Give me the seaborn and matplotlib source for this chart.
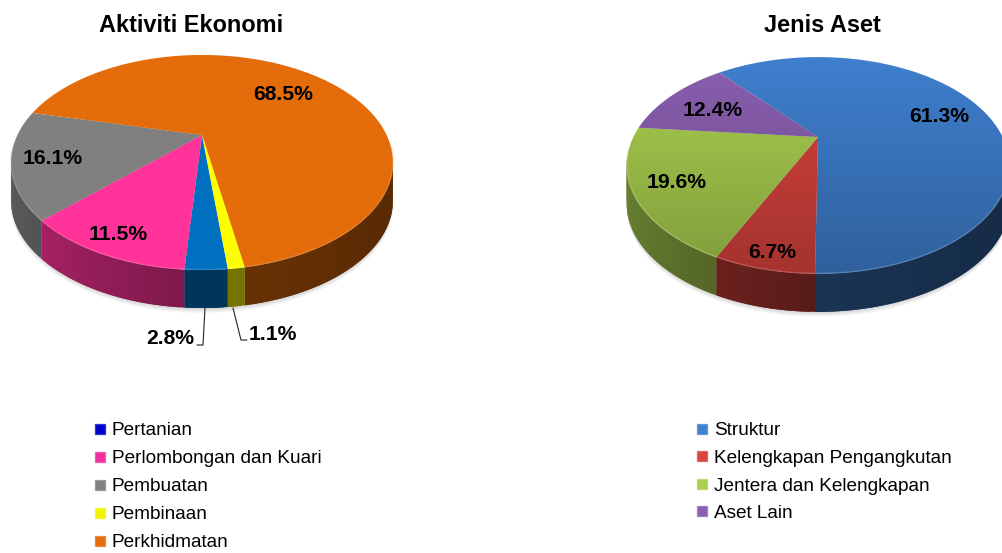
import matplotlib
matplotlib.use("Agg")
import matplotlib.pyplot as plt
from matplotlib.collections import PolyCollection
from matplotlib.lines import Line2D
from matplotlib.patches import Polygon
import numpy as np
import seaborn as sns

# Aktiviti Ekonomi
ekonomi_title = "Aktiviti Ekonomi"
ekonomi_labels = ["Pertanian", "Perlombongan dan Kuari", "Pembuatan", "Pembinaan", "Perkhidmatan"]
ekonomi_values = [2.8, 11.5, 16.1, 1.1, 68.5]
ekonomi_colors = ["#0070C0", "#FF3399", "#808080", "#FFFF00", "#E46C0A"]
ekonomi_legend_colors = ["#0000CC", "#F0309A", "#808080", "#F4F400", "#E46C0A"]
ekonomi_order = [0, 1, 2, 4, 3]  # clockwise on the picture

# Jenis Aset
aset_title = "Jenis Aset"
aset_labels = ["Struktur", "Kelengkapan Pengangkutan", "Jentera dan Kelengkapan", "Aset Lain"]
aset_values = [61.3, 6.7, 19.6, 12.4]
aset_colors = ["#3F7FCE", "#D8433D", "#A9CF4F", "#8A5FB0"]
aset_order = [0, 1, 2, 3]

sns.set_style("white")
plt.rcParams["font.family"] = ["Liberation Sans", "DejaVu Sans"]

fig = plt.figure(figsize=(10.03, 5.53), dpi=100)
ax = fig.add_axes([0, 0, 1, 1])
ax.set_xlim(0, 1003)
ax.set_ylim(553, 0)
ax.axis("off")

# perspective of the disc
AX = 184.6
DEPTH = 38


def rim(cx, cy, phi, persp, by):
    # phi in degrees, clockwise from the front of the pie
    phi = np.radians(phi)
    u = -np.sin(phi)
    v = -np.cos(phi)
    w = 1 + persp * v
    return cx + AX * u / w, cy - by * v / w


def side_shade(phi):
    u = -np.sin(np.radians(phi))
    return np.interp(u, [-1, 0, 1], [0.72, 0.47, 0.38])


def draw_pie(cx, cy, values, colors, order, start, fade, wall_dim, persp, by):
    palette = sns.color_palette(colors)
    angles = np.array(values)[order] * 3.6
    edges = start + np.concatenate([[0], np.cumsum(angles)])

    # soft shadow under the pie
    phi_all = np.linspace(0, 360, 240)
    xs, ys = rim(cx, cy, phi_all, persp, by)
    for k in range(1, 6):
        ax.add_patch(Polygon(np.c_[xs, ys + DEPTH + k], color="black", alpha=0.03, lw=0, zorder=1))

    # side wall, only the part facing the viewer
    quads, quad_colors = [], []
    for i, idx in enumerate(order):
        steps = np.arange(edges[i], edges[i + 1], 1.0)
        steps = np.append(steps, edges[i + 1])
        for a, b in zip(steps[:-1], steps[1:]):
            if np.cos(np.radians((a + b) / 2)) < 0.2:
                continue
            overlap = min(b + 1.0, edges[i + 1])
            xa, ya = rim(cx, cy, a, persp, by)
            xb, yb = rim(cx, cy, overlap, persp, by)
            quads.append([(xa, ya), (xb, yb), (xb, yb + DEPTH), (xa, ya + DEPTH)])
            quad_colors.append(np.array(palette[idx]) * side_shade((a + b) / 2) * wall_dim)
    walls = PolyCollection(quads, facecolors=quad_colors, edgecolors="none", linewidths=0, zorder=2)
    ax.add_collection(walls)

    # top face, shaded from back to front
    y_top = rim(cx, cy, 180, persp, by)[1]
    y_bottom = rim(cx, cy, 0, persp, by)[1]
    for i, idx in enumerate(order):
        phi = np.linspace(edges[i], edges[i + 1], max(int(angles[i]), 2) + 1)
        x, y = rim(cx, cy, phi, persp, by)
        poly = Polygon(np.r_[[(cx, cy)], np.c_[x, y]], closed=True, transform=ax.transData, fc="none", lw=0)
        ax.add_patch(poly)
        base = np.array(palette[idx])
        grad = np.linspace(1, fade, 128)[:, None, None] * base[None, None, :]
        im = ax.imshow(grad, extent=(cx - 200, cx + 200, y_bottom, y_top), aspect="auto", zorder=3,
                       interpolation="bilinear")
        im.set_clip_path(poly)

        # light bevel on the front edge
        front = phi[np.cos(np.radians(phi)) > 0.1]
        if len(front) > 1:
            fx, fy = rim(cx, cy, front, persp, by)
            light = base + (1 - base) * 0.4
            ax.plot(fx, fy - 0.5, color=light, lw=1.0, alpha=0.35, zorder=4, solid_capstyle="butt")


def legend_handles(colors):
    handles = []
    for c in sns.color_palette(colors):
        c = np.array(c)
        handles.append(Line2D([], [], ls="none", marker="s", ms=7.5, markerfacecolor=c,
                              markeredgecolor=c * 0.8 + 0.2, markeredgewidth=0.9))
    return handles


draw_pie(202, 135, ekonomi_values, ekonomi_colors, ekonomi_order, -6, 1.0, 1.0, 0.2558, 100.5)
draw_pie(818, 137, aset_values, aset_colors, aset_order, 140.0, 0.76, 0.86, 0.2628, 100.9)
ax.set_xlim(0, 1003)
ax.set_ylim(553, 0)

title_style = dict(fontsize=16.9, fontweight="bold", ha="center", va="center", color="black", zorder=6)
ax.text(191, 26, ekonomi_title, **title_style)
ax.text(822, 26, aset_title, **title_style)

label_style = dict(fontsize=15.2, fontweight="bold", ha="center", va="center", color="black", zorder=6)
ekonomi_label_pos = [(170, 339), (118, 235), (53, 158), (273, 334), (283, 94)]
for val, (x, y) in zip(ekonomi_values, ekonomi_label_pos):
    ax.text(x, y, f"{val}%", **label_style)
aset_label_pos = [(939, 116), (772, 252), (677, 182), (713, 110)]
for val, (x, y) in zip(aset_values, aset_label_pos):
    ax.text(x, y, f"{val}%", **label_style)

# leader lines of the two small slices
ax.plot([205, 203, 197], [308, 345, 345], color="#222222", lw=0.8, zorder=5)
ax.plot([233, 241, 247], [308, 340, 340], color="#222222", lw=0.8, zorder=5)

leg_style = dict(loc="upper left", bbox_transform=ax.transData, frameon=False, fontsize=13.7, borderpad=0,
                 borderaxespad=0, handlelength=0.7, handletextpad=0.28, numpoints=1, labelcolor="black")
leg1 = ax.legend(legend_handles(ekonomi_legend_colors), ekonomi_labels, bbox_to_anchor=(93, 422),
                 labelspacing=0.56, **leg_style)
ax.add_artist(leg1)
ax.legend(legend_handles(aset_colors), aset_labels, bbox_to_anchor=(695, 422), labelspacing=0.54, **leg_style)

fig.savefig("out.png", dpi=100)
